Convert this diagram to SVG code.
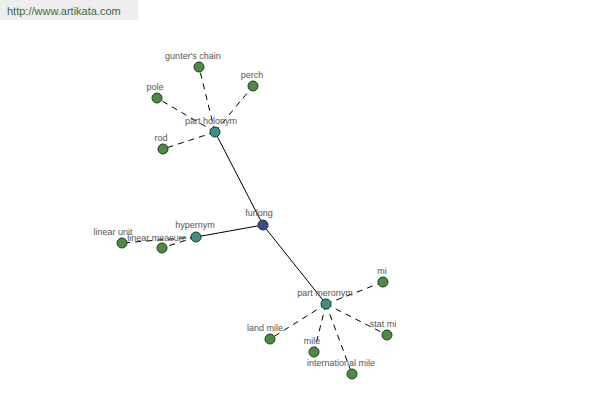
<svg xmlns="http://www.w3.org/2000/svg" width="600" height="400" viewBox="0 0 600 400">
<style>
.n{stroke:#1f3a1f;stroke-width:1}
.leaf{fill:#4e8a44}
.rel{fill:#3f8f8c}
.root{fill:#3b4b92}
.l{font-family:"Liberation Sans",Arial,sans-serif;font-size:9px;fill:#555;text-anchor:middle}
.e{stroke:#000;stroke-width:1;fill:none}
.d{stroke-dasharray:6,5}
</style>
<rect x="0" y="0" width="138" height="20" fill="#eeeeee"/>
<text x="7" y="15" font-family="Liberation Sans,Arial,sans-serif" font-size="11" fill="#3d6b3d">http://www.artikata.com</text>
<g id="connectors">
<line class="e" x1="263" y1="225" x2="215" y2="132"/>
<line class="e" x1="263" y1="225" x2="196" y2="237"/>
<line class="e" x1="263" y1="225" x2="326" y2="304"/>
<line class="e d" x1="215" y1="132" x2="199" y2="67"/>
<line class="e d" x1="215" y1="132" x2="253" y2="86"/>
<line class="e d" x1="215" y1="132" x2="157" y2="98"/>
<line class="e d" x1="215" y1="132" x2="163" y2="149"/>
<line class="e d" x1="196" y1="237" x2="122" y2="243"/>
<line class="e d" x1="196" y1="237" x2="162" y2="248"/>
<line class="e d" x1="326" y1="304" x2="383" y2="282"/>
<line class="e d" x1="326" y1="304" x2="387" y2="335"/>
<line class="e d" x1="326" y1="304" x2="270" y2="339"/>
<line class="e d" x1="326" y1="304" x2="314" y2="352"/>
<line class="e d" x1="326" y1="304" x2="352" y2="374"/>
</g>
<g id="gunters-chain"><circle class="n leaf" cx="199" cy="67" r="5"/><text class="l" x="193" y="59">gunter's chain</text></g>
<g id="perch"><circle class="n leaf" cx="253" cy="86" r="5"/><text class="l" x="252" y="78">perch</text></g>
<g id="pole"><circle class="n leaf" cx="157" cy="98" r="5"/><text class="l" x="155" y="90">pole</text></g>
<g id="rod"><circle class="n leaf" cx="163" cy="149" r="5"/><text class="l" x="161" y="141">rod</text></g>
<g id="linear-unit"><circle class="n leaf" cx="122" cy="243" r="5"/><text class="l" x="113" y="235">linear unit</text></g>
<g id="linear-measure"><circle class="n leaf" cx="162" cy="248" r="5"/><text class="l" x="157" y="241">linear measure</text></g>
<g id="mi"><circle class="n leaf" cx="383" cy="282" r="5"/><text class="l" x="382" y="274">mi</text></g>
<g id="stat-mi"><circle class="n leaf" cx="387" cy="335" r="5"/><text class="l" x="383" y="327">stat mi</text></g>
<g id="land-mile"><circle class="n leaf" cx="270" cy="339" r="5"/><text class="l" x="265" y="331">land mile</text></g>
<g id="mile"><circle class="n leaf" cx="314" cy="352" r="5"/><text class="l" x="312" y="344">mile</text></g>
<g id="international-mile"><circle class="n leaf" cx="352" cy="374" r="5"/><text class="l" x="341" y="366">international mile</text></g>
<g id="part-holonym"><circle class="n rel" cx="215" cy="132" r="5"/><text class="l" x="211" y="124">part holonym</text></g>
<g id="hypernym"><circle class="n rel" cx="196" cy="237" r="5"/><text class="l" x="195" y="228">hypernym</text></g>
<g id="part-meronym"><circle class="n rel" cx="326" cy="304" r="5"/><text class="l" x="325" y="296">part meronym</text></g>
<g id="furlong"><circle class="n root" cx="263" cy="225" r="5"/><text class="l" x="259" y="216">furlong</text></g>
</svg>
